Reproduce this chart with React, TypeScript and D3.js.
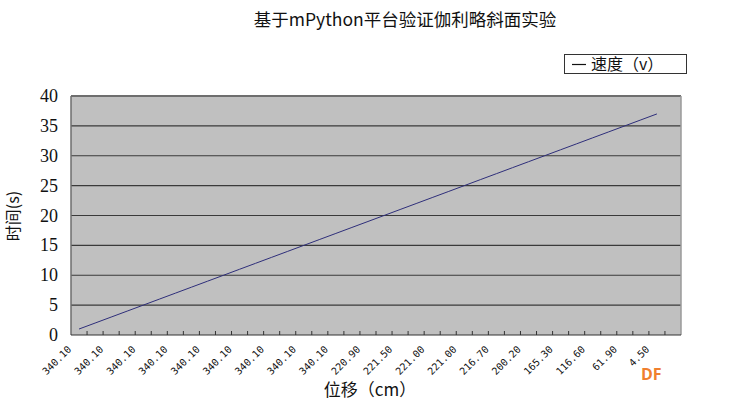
import React from "react";
import * as d3 from "d3";

const title = "基于mPython平台验证伽利略斜面实验";
const legendLabel = "速度（v）";
const yTitle = "时间(s)";
const xTitle = "位移（cm）";
const yTicks = [0, 5, 10, 15, 20, 25, 30, 35, 40];
const xTickLabels = [
  "340.10", "340.10", "340.10", "340.10", "340.10", "340.10", "340.10", "340.10", "340.10",
  "220.90", "221.50", "221.00", "221.00", "216.70", "200.20", "165.30", "116.60", "61.90", "4.50",
];
const seriesValues = [
  1, 2, 3, 4, 5, 6, 7, 8, 9, 10, 11, 12, 13, 14, 15, 16, 17, 18, 19, 20,
  21, 22, 23, 24, 25, 26, 27, 28, 29, 30, 31, 32, 33, 34, 35, 36, 37,
];
const categoryCount = 38;

export default function App() {
  const W = 749, H = 403;
  const left = 71, right = 681, top = 96, bottom = 335;
  const x = d3.scaleBand<number>().domain(d3.range(categoryCount)).range([left, right]).padding(0);
  const y = d3.scaleLinear().domain([0, 40]).range([bottom, top]);
  const cx = (i: number) => (x(i) as number) + x.bandwidth() / 2;
  const line = d3.line<number>().x((_, i) => cx(i)).y((d) => y(d));
  const serif = "'Liberation Serif', 'DejaVu Serif', serif";
  const cjk = "'Noto Sans CJK SC', sans-serif";

  return (
    <svg width={W} height={H} style={{ position: "absolute", left: 0, top: 0, background: "#fff" }}>
      <rect x={0} y={0} width={W} height={H} fill="#ffffff" />
      <text x={405} y={26} textAnchor="middle" fontSize={17.5} fontFamily={cjk} fill="#111">{title}</text>

      {/* plot area */}
      <rect x={left} y={top} width={right - left} height={bottom - top} fill="#c0c0c0" />
      {yTicks.filter((t) => t > 0).map((t) => (
        <line key={t} x1={left} x2={right} y1={y(t)} y2={y(t)} stroke="#3a3a3a" strokeWidth={1.2} />
      ))}
      <line x1={left} x2={right} y1={top} y2={top} stroke="#6e6e6e" strokeWidth={2} />
      <line x1={left} x2={left} y1={top} y2={bottom} stroke="#6e6e6e" strokeWidth={1.5} />
      <line x1={right} x2={right} y1={top} y2={bottom} stroke="#9a9a9a" strokeWidth={1.5} />
      <line x1={left} x2={right} y1={bottom} y2={bottom} stroke="#333" strokeWidth={1.2} />
      {d3.range(1, categoryCount).map((i) => (
        <line key={i} x1={x(i) as number} x2={x(i) as number} y1={bottom - 4} y2={bottom} stroke="#333" strokeWidth={1} />
      ))}

      <path d={line(seriesValues) || ""} fill="none" stroke="#2e2e7a" strokeWidth={1} />

      {/* y ticks */}
      {yTicks.map((t) => (
        <text key={t} x={58} y={y(t) + 6} textAnchor="end" fontSize={18} fontFamily={serif} fill="#111">{t}</text>
      ))}
      <text transform={`translate(19,${216}) rotate(-90)`} textAnchor="middle" fontSize={16} fontFamily={cjk} fill="#111">{yTitle}</text>

      {/* x tick labels */}
      {xTickLabels.map((lab, k) => {
        const i = k * 2;
        const px = cx(i) - 7;
        const py = 350;
        return (
          <text key={k} transform={`translate(${px},${py}) rotate(-45)`} textAnchor="end" fontSize={10}
            fontFamily="'DejaVu Sans Mono', monospace" fill="#111">{lab}</text>
        );
      })}
      <text x={370} y={396} textAnchor="middle" fontSize={17} fontFamily={cjk} fill="#111">{xTitle}</text>

      {/* legend */}
      <rect x={564.5} y={54.5} width={122} height={19} fill="#fff" stroke="#333" strokeWidth={1} />
      <line x1={572} x2={586} y1={64.5} y2={64.5} stroke="#111" strokeWidth={1.2} />
      <text x={591} y={70} fontSize={16} fontFamily={cjk} fill="#111">{legendLabel}</text>

      <text x={641} y={380} fontSize={16} fontWeight="bold" fontFamily="'Open Sans', sans-serif" fill="#f07f2e">DF</text>
    </svg>
  );
}
